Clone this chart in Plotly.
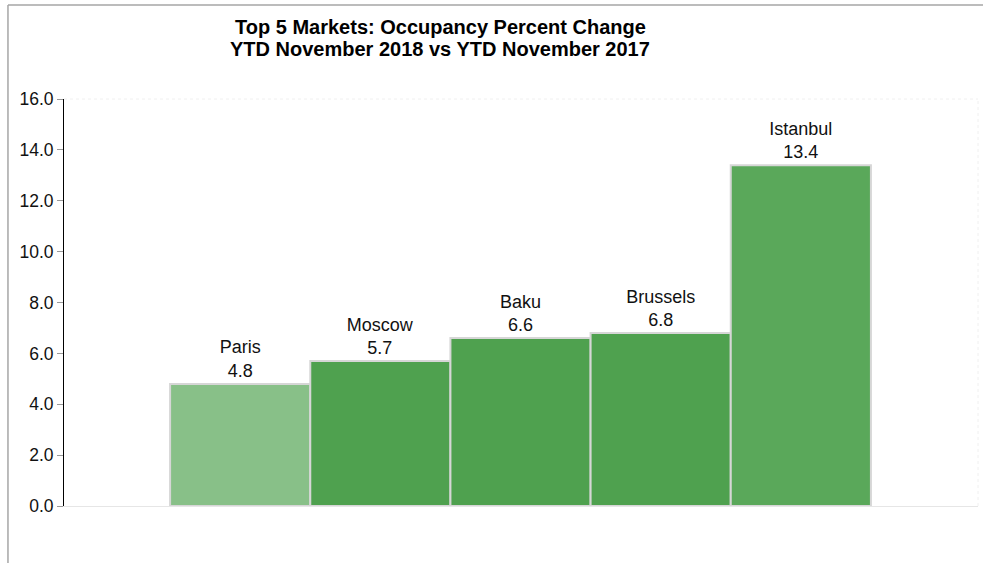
import plotly.graph_objects as go

markets = ["Paris", "Moscow", "Baku", "Brussels", "Istanbul"]
occupancy_change = [4.8, 5.7, 6.6, 6.8, 13.4]
bar_colors = ["#88c088", "#4fa14f", "#4fa14f", "#4fa14f", "#5aa85a"]
y_ticks = [0, 2, 4, 6, 8, 10, 12, 14, 16]
title_lines = ["Top 5 Markets: Occupancy Percent Change",
               "YTD November 2018 vs YTD November 2017"]

labels = [f"{m}<br>{v:.1f}" for m, v in zip(markets, occupancy_change)]

fig = go.Figure(go.Bar(
    x=list(range(len(markets))),
    y=occupancy_change,
    width=1.0,
    marker=dict(color=bar_colors, line=dict(color="#d6d6d6", width=2)),
    text=labels,
    textposition="outside",
    textfont=dict(family="Liberation Sans, Arial", size=18, color="#111111"),
    cliponaxis=False,
    hovertext=markets,
))

# plot area: x 64..978, y 99..506 (pixels)
def px_y(p):
    return (506 - p) / 407

title_ann = [
    dict(text=f"<b>{t}</b>", xref="paper", yref="paper",
         x=(440 - 64) / 914, y=px_y(yc), xanchor="center", yanchor="middle",
         showarrow=False,
         font=dict(family="Liberation Sans, Arial", size=20, color="#000000"))
    for t, yc in zip(title_lines, [27, 49])
]

fig.update_layout(
    width=983, height=563,
    margin=dict(l=64, r=5, t=99, b=57, autoexpand=False),
    paper_bgcolor="white", plot_bgcolor="white",
    showlegend=False,
    annotations=title_ann,
    font=dict(family="Liberation Sans, Arial", size=17, color="#111111"),
    xaxis=dict(
        range=[-1.257, 5.264],
        showticklabels=False, showgrid=False, zeroline=False,
        showline=True, linecolor="#e6e6e6", linewidth=1, ticks="",
        fixedrange=True,
    ),
    yaxis=dict(
        range=[0, 16], tickvals=y_ticks,
        ticktext=[f"{t:.1f}" for t in y_ticks],
        showgrid=False, zeroline=False,
        showline=True, linecolor="#000000", linewidth=1,
        ticks="outside", ticklen=6, tickcolor="#999999",
        tickfont=dict(family="Liberation Sans, Arial", size=17.5, color="#111111"),
        fixedrange=True,
    ),
    shapes=[
        dict(type="line", xref="paper", yref="paper",
             x0=-0.0613, x1=1.01, y0=px_y(5), y1=px_y(5),
             line=dict(color="#a6a6a6", width=1.5)),
        dict(type="line", xref="paper", yref="paper",
             x0=-0.0613, x1=-0.0613, y0=-0.2, y1=px_y(5),
             line=dict(color="#a6a6a6", width=1.5)),
        dict(type="line", xref="paper", yref="paper",
             x0=0, x1=1, y0=1, y1=1,
             line=dict(color="#f0f0f0", width=1, dash="dot")),
        dict(type="line", xref="paper", yref="paper",
             x0=1, x1=1, y0=0, y1=1,
             line=dict(color="#f0f0f0", width=1, dash="dot")),
    ],
)

fig.write_html("out.html", config={"displayModeBar": False},
               post_script="document.body.style.margin='0px';")
